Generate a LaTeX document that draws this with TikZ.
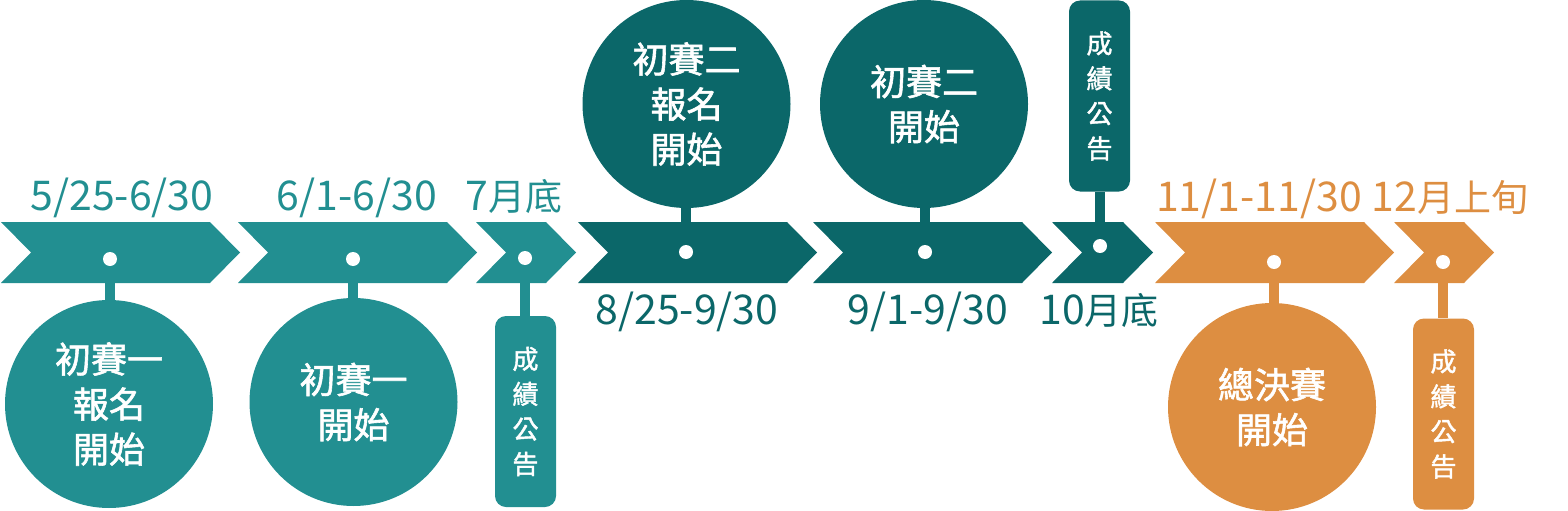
\documentclass[tikz,border=0pt]{standalone}
\usepackage{fontspec}
\setmainfont{Noto Sans CJK TC}
\newfontfamily\medfont[FakeBold=1.6]{Noto Sans CJK TC}
\newcommand\smcjk[1]{{\fontsize{37}{37}\selectfont #1}}
\definecolor{lteal}{HTML}{228F91}
\definecolor{dteal}{HTML}{0B6769}
\definecolor{orng}{HTML}{DD8E41}
\tikzset{
  dotw/.style={circle, fill=white, inner sep=0pt, minimum size=14pt},
  bigc/.style={circle, fill=#1, minimum size=208pt, inner sep=0pt, text=white,
    font=\medfont\fontsize{36}{45}\selectfont, align=center},
  tagbox/.style={rounded corners=11pt, fill=#1, minimum width=61pt, minimum height=191pt,
    inner sep=0pt, text=white, font=\medfont\fontsize{26}{35}\selectfont, align=center},
  datel/.style={text=#1, font=\fontsize{41}{41}\selectfont, inner sep=0pt, anchor=base},
  stem/.style={draw=#1, line width=10pt}
}
\newcommand\mychev[3]{\fill[#3] (#1,222) -- ({#2-30},222) -- (#2,252.5) -- ({#2-30},283) -- (#1,283) -- ({#1+30},252.5) -- cycle;}
\begin{document}
\begin{tikzpicture}[x=1pt,y=-1pt]
\useasboundingbox (0,0) rectangle (1568,511);
% circles and tags
\node[bigc=lteal] (c1) at (109,404) {初賽一\\報名\\開始};
\node[bigc=lteal] (c2) at (353.5,402) {初賽一\\開始};
\node[tagbox=lteal] (t3) at (525.5,411.5) {成\\績\\公\\告};
\node[bigc=dteal] (c4) at (686.5,104) {初賽二\\報名\\開始};
\node[bigc=dteal] (c5) at (924,104) {初賽二\\開始};
\node[tagbox=dteal] (t6) at (1099.5,96) {成\\績\\公\\告};
\node[bigc=orng] (c7) at (1272,407) {總決賽\\開始};
\node[tagbox=orng] (t8) at (1443.5,414) {成\\績\\公\\告};
% chevrons
\mychev{1}{240}{lteal}
\mychev{238}{477}{lteal}
\mychev{476}{576}{lteal}
\mychev{578}{817}{dteal}
\mychev{813}{1052}{dteal}
\mychev{1052}{1153}{dteal}
\mychev{1155}{1394}{orng}
\mychev{1394}{1494}{orng}
% dot positions
\coordinate (p1) at (110,259);
\coordinate (p2) at (353,259);
\coordinate (p3) at (525,258);
\coordinate (p4) at (686,252);
\coordinate (p5) at (925,252);
\coordinate (p6) at (1100,246);
\coordinate (p7) at (1274,262);
\coordinate (p8) at (1443,262);
% stems
\draw[stem=lteal] (p1) -- (p1 |- c1.north);
\draw[stem=lteal] (p2) -- (p2 |- c2.north);
\draw[stem=lteal] (p3) -- (p3 |- t3.north);
\draw[stem=dteal] (p4) -- (p4 |- c4.south);
\draw[stem=dteal] (p5) -- (p5 |- c5.south);
\draw[stem=dteal] (p6) -- (p6 |- t6.south);
\draw[stem=orng] (p7) -- (p7 |- c7.north);
\draw[stem=orng] (p8) -- (p8 |- t8.north);
% dots
\node[dotw] (d1) at (p1) {};
\node[dotw] (d2) at (p2) {};
\node[dotw] (d3) at (p3) {};
\node[dotw] (d4) at (p4) {};
\node[dotw] (d5) at (p5) {};
\node[dotw] (d6) at (p6) {};
\node[dotw] (d7) at (p7) {};
\node[dotw] (d8) at (p8) {};
% dates
\node[datel=lteal] (l1) at (122,210) {5/25-6/30};
\node[datel=lteal] (l2) at (357,210) {6/1-6/30};
\node[datel=lteal] (l3) at (514,210) {7\smcjk{月底}};
\node[datel=dteal] (l4) at (687,324) {8/25-9/30};
\node[datel=dteal] (l5) at (928,324) {9/1-9/30};
\node[datel=dteal] (l6) at (1099,324) {10\smcjk{月底}};
\node[datel=orng] (l7) at (1259,211) {11/1-11/30};
\node[datel=orng] (l8) at (1450,211) {12\smcjk{月上旬}};
\end{tikzpicture}
\end{document}
